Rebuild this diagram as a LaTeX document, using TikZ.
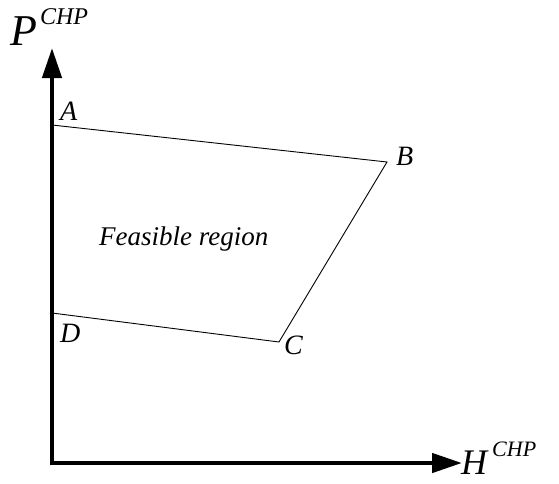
\documentclass[tikz,border=0pt]{standalone}
\usepackage{fontspec}
\setmainfont{Liberation Serif}
\usetikzlibrary{arrows.meta, positioning, calc}

\begin{document}
\begin{tikzpicture}[
        x=1pt, y=-1pt,
        achse/.style={
            line width=4.5pt,
            -{Triangle[length=30pt, width=19pt]}
        },
        grenze/.style={
            line width=0.9pt,
            line join=miter
        },
        punkt/.style={
            inner sep=0pt,
            font=\fontsize{28}{28}\selectfont\itshape
        },
        bereich/.style={
            inner sep=0pt,
            font=\fontsize{27}{27}\selectfont\itshape
        }
    ]
        \useasboundingbox (0,0) rectangle (559,483);
        % Achsen
        \coordinate (ursprung) at (52,463);
        \coordinate (ptop) at (52,48);
        \coordinate (hend) at (462,463);
        \draw[achse] ($(ursprung)+(0,2.25)$) -- (ptop);
        \draw[achse] ($(ursprung)+(-2.25,0)$) -- (hend);
        % Ecken
        \coordinate (a) at (52,125);
        \coordinate (b) at (387,162);
        \coordinate (c) at (279,342);
        \coordinate (d) at (52,313);
        \draw[grenze] (a) -- (b) -- (c) -- (d);
        % Beschriftung
        \node[punkt, anchor=base west] (la) at (60,120) {A};
        \node[punkt, anchor=base west] (lb) at (396,165) {B};
        \node[punkt, anchor=base west] (lc) at (284,354) {C};
        \node[punkt, anchor=base west] (ld) at (60,342) {D};
        \node[bereich, anchor=base west] (feld) at (99,245) {Feasible region};
        \node[inner sep=0pt, anchor=base west] (py) at (10,45) {%
            {\fontsize{44}{44}\selectfont\itshape P}\hspace{3pt}%
            \raisebox{21pt}{\fontsize{24}{24}\selectfont\itshape CHP}};
        \node[inner sep=0pt, anchor=base west] (hx) at (461,474) {%
            {\fontsize{36}{36}\selectfont\itshape H}\hspace{5pt}%
            \raisebox{18pt}{\fontsize{22}{22}\selectfont\itshape CHP}};
    \end{tikzpicture}
\end{document}
